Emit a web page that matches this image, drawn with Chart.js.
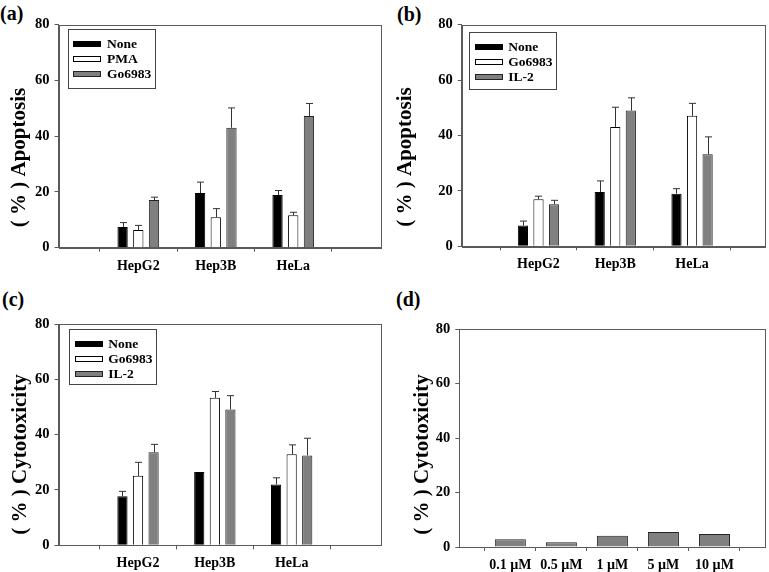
<!DOCTYPE html>
<html>
<head>
<meta charset="utf-8">
<script src="https://cdn.jsdelivr.net/npm/chart.js@4.4.0/dist/chart.umd.min.js"></script>
<style>
  body { margin: 0; background: #fff; width: 769px; height: 572px; position: relative; overflow: hidden; font-family: "Liberation Serif", serif; }
  canvas { position: absolute; }
  .tag { position: absolute; font-weight: bold; font-size: 20px; line-height: 20px; color: #000; }
</style>
</head>
<body>
<div class="tag" style="left:0px;top:3px">(a)</div>
<div class="tag" style="left:397px;top:4px">(b)</div>
<div class="tag" style="left:2px;top:289px">(c)</div>
<div class="tag" style="left:396px;top:289px">(d)</div>
<canvas id="pa"></canvas>
<canvas id="pb"></canvas>
<canvas id="pc"></canvas>
<canvas id="pd"></canvas>
<script>
const cellLines = ['HepG2', 'Hep3B', 'HeLa'];
const doses = ['0.1 µM', '0.5 µM', '1 µM', '5 µM', '10 µM'];
const yTicks = [0, 20, 40, 60, 80];

// (a) apoptosis: None / PMA / Go6983
const aLabels = ['None', 'PMA', 'Go6983'];
const aNone = [7.4, 19.6, 18.9];
const aNoneSd = [1.6, 3.9, 1.6];
const aPma = [6.3, 10.9, 11.6];
const aPmaSd = [1.7, 3.1, 1.1];
const aGo = [17.1, 43.0, 47.2];
const aGoSd = [1.0, 7.1, 4.5];

// (b) apoptosis: None / Go6983 / IL-2
const bLabels = ['None', 'Go6983', 'IL-2'];
const bNone = [7.5, 19.6, 19.0];
const bNoneSd = [1.6, 4.0, 1.8];
const bGo = [17.0, 43.1, 47.1];
const bGoSd = [1.1, 7.1, 4.5];
const bIl2 = [15.2, 49.0, 33.2];
const bIl2Sd = [1.4, 4.6, 6.3];

// (c) cytotoxicity: None / Go6983 / IL-2
const cLabels = ['None', 'Go6983', 'IL-2'];
const cNone = [17.7, 26.5, 22.0];
const cNoneSd = [1.8, 0, 2.4];
const cGo = [25.1, 53.3, 32.9];
const cGoSd = [4.9, 2.3, 3.4];
const cIl2 = [33.6, 49.1, 32.5];
const cIl2Sd = [2.9, 5.0, 6.2];

// (d) cytotoxicity by dose
const dValues = [2.8, 1.7, 4.1, 5.5, 4.8];

const FONT = '"Liberation Serif", serif';
const fills = ['#000000', '#ffffff', '#808080'];
const edges = ['#000000', '#000000', '#222222'];
const AXIS = '#5a5a5a';

// page coordinates of each panel
const panels = {
  pa: { canvas: [0, 0, 385, 286], area: [58.5, 24.5, 380, 247.7], xr: [-0.03, 4.12],
        title: '( % ) Apoptosis', tpos: [19.5, 157.5], legend: [67.7, 29, 154.3, 88.3] },
  pb: { canvas: [385, 0, 384, 286], area: [461.7, 24.7, 765, 246.3], xr: [0, 3.95],
        title: '( % ) Apoptosis', tpos: [405.5, 157], legend: [469, 32.3, 555.7, 89.3] },
  pc: { canvas: [0, 286, 385, 286], area: [58.5, 324, 380, 545.3], xr: [-0.035, 4.15],
        title: '( % ) Cytotoxicity', tpos: [20.3, 454.5], legend: [69, 329, 155.7, 384] },
  pd: { canvas: [385, 286, 384, 286], area: [459.3, 329, 765.5, 547], xr: [0, 6],
        title: '( % ) Cytotoxicity', tpos: [422.5, 454.5], legend: null }
};

const extras = {};

const panelPlugin = {
  id: 'panel',
  afterDatasetsDraw(chart) {
    const ex = extras[chart.canvas.id];
    if (!ex.sds) return;
    const ctx = chart.ctx;
    const y = chart.scales.y;
    ctx.save();
    ctx.strokeStyle = '#333';
    ctx.lineWidth = 1;
    ex.sds.forEach((sd, d) => {
      const vals = ex.values[d];
      chart.getDatasetMeta(d).data.forEach((bar, i) => {
        if (!sd[i]) return;
        const top = y.getPixelForValue(vals[i] + sd[i]);
        const x = Math.round(bar.x) + 0.5;
        ctx.beginPath();
        ctx.moveTo(x, bar.y);
        ctx.lineTo(x, top);
        ctx.moveTo(x - 3.5, top);
        ctx.lineTo(x + 3.5, top);
        ctx.stroke();
      });
    });
    ctx.restore();
  },
  afterDraw(chart) {
    const ex = extras[chart.canvas.id];
    const p = panels[chart.canvas.id];
    const ox = p.canvas[0], oy = p.canvas[1];
    const ctx = chart.ctx;
    const a = chart.chartArea;
    ctx.save();
    ctx.strokeStyle = AXIS;
    ctx.lineWidth = 1;
    ctx.strokeRect(Math.round(a.left) + 0.5, Math.round(a.top) + 0.5,
                   Math.round(a.right - a.left), Math.round(a.bottom - a.top));

    // y axis title, sits a bit below the axis centre like the original
    ctx.fillStyle = '#000';
    ctx.font = 'bold 21px ' + FONT;
    ctx.translate(p.tpos[0] - ox, p.tpos[1] - oy);
    ctx.rotate(-Math.PI / 2);
    ctx.textAlign = 'center';
    ctx.textBaseline = 'middle';
    ctx.fillText(p.title, 0, 0);
    ctx.restore();

    if (p.legend) {
      const [l, t, r, b] = p.legend.map((v, k) => v - (k % 2 ? oy : ox));
      ctx.save();
      ctx.strokeStyle = '#444';
      ctx.lineWidth = 1;
      ctx.strokeRect(Math.round(l) + 0.5, Math.round(t) + 0.5, Math.round(r - l), Math.round(b - t));
      ctx.font = 'bold 13.5px ' + FONT;
      ctx.textBaseline = 'middle';
      ex.labels.forEach((lab, i) => {
        const yy = Math.round(t + 14.7 + i * 15.1);
        ctx.fillStyle = fills[i];
        ctx.fillRect(Math.round(l + 5.6), yy - 3, 28, 6);
        ctx.strokeStyle = edges[i];
        ctx.strokeRect(Math.round(l + 5.6) + 0.5, yy - 2.5, 27, 5);
        ctx.fillStyle = '#000';
        ctx.fillText(lab, l + 39.3, yy + 0.5);
      });
      ctx.restore();
    }
  }
};

function makeChart(id, cats, labels, values, sds, colourIdx, cp, bp) {
  const p = panels[id];
  const [cl, ct, cw, ch] = p.canvas;
  const [al, at, ar, ab] = p.area;
  const el = document.getElementById(id);
  el.width = cw; el.height = ch;
  el.style.left = cl + 'px'; el.style.top = ct + 'px';
  el.style.width = cw + 'px'; el.style.height = ch + 'px';
  extras[id] = { labels, values, sds };

  const datasets = values.map((vals, d) => ({
    label: labels[d],
    data: vals.map((v, i) => ({ x: i + 1, y: v })),
    backgroundColor: fills[colourIdx[d]],
    borderColor: edges[colourIdx[d]],
    borderWidth: 1,
    categoryPercentage: cp,
    barPercentage: bp
  }));

  new Chart(el, {
    type: 'bar',
    data: { datasets },
    options: {
      responsive: false,
      animation: false,
      devicePixelRatio: 1,
      layout: { padding: { left: 0, top: at - ct, right: cl + cw - ar, bottom: 0 } },
      plugins: { legend: { display: false }, tooltip: { enabled: false } },
      scales: {
        x: {
          type: 'linear',
          min: p.xr[0], max: p.xr[1],
          offset: false,
          afterBuildTicks: s => { s.ticks = cats.map((c, i) => ({ value: i + 1 })); },
          afterFit: s => { s.height = ct + ch - ab; },
          grid: { drawOnChartArea: false, drawTicks: true, tickLength: 4, color: AXIS },
          border: { display: true, color: AXIS },
          ticks: {
            color: '#000', padding: 6, maxRotation: 0, autoSkip: false,
            font: { family: FONT, weight: 'bold', size: 14 },
            callback: v => cats[Math.round(v) - 1] || ''
          }
        },
        y: {
          min: 0, max: 80,
          afterBuildTicks: s => { s.ticks = yTicks.map(v => ({ value: v })); },
          afterFit: s => { s.width = al - cl; },
          grid: { drawOnChartArea: false, drawTicks: true, tickLength: 4, color: AXIS },
          border: { display: true, color: AXIS },
          ticks: {
            color: '#000', padding: 5,
            font: { family: FONT, weight: 'bold', size: 14.5 }
          }
        }
      }
    },
    plugins: [panelPlugin]
  });
}

makeChart('pa', cellLines, aLabels, [aNone, aPma, aGo], [aNoneSd, aPmaSd, aGoSd], [0, 1, 2], 0.608, 0.656);
makeChart('pb', cellLines, bLabels, [bNone, bGo, bIl2], [bNoneSd, bGoSd, bIl2Sd], [0, 1, 2], 0.608, 0.656);
makeChart('pc', cellLines, cLabels, [cNone, cGo, cIl2], [cNoneSd, cGoSd, cIl2Sd], [0, 1, 2], 0.608, 0.656);
makeChart('pd', doses, ['Cytotoxicity'], [dValues], null, [2], 1, 0.608);
</script>
</body>
</html>
